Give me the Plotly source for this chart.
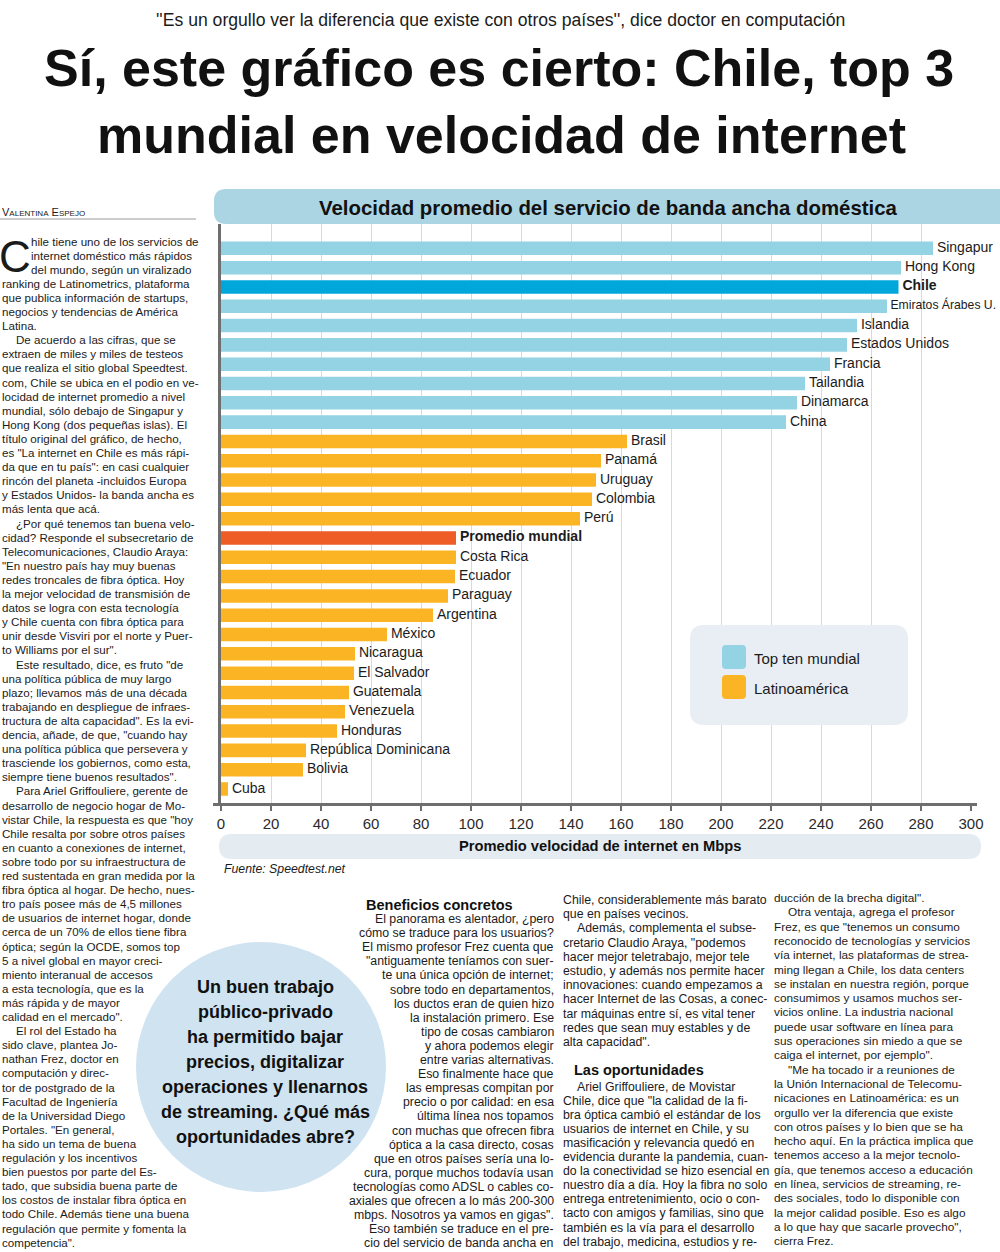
import plotly.graph_objects as go

W, H = 1000, 1252

# ---------------- chart data ----------------
countries = ["Singapur", "Hong Kong", "Chile", "Emiratos Árabes U.", "Islandia",
             "Estados Unidos", "Francia", "Tailandia", "Dinamarca", "China",
             "Brasil", "Panamá", "Uruguay", "Colombia", "Perú", "Promedio mundial",
             "Costa Rica", "Ecuador", "Paraguay", "Argentina", "México", "Nicaragua",
             "El Salvador", "Guatemala", "Venezuela", "Honduras",
             "República Dominicana", "Bolivia", "Cuba"]
speeds = [284.8, 272.0, 271.0, 266.4, 254.4, 250.4, 243.6, 233.6, 230.4, 226.0,
          162.4, 152.0, 150.0, 148.4, 143.6, 94.0, 94.0, 93.6, 90.8, 84.8, 66.4,
          53.6, 53.2, 51.2, 49.6, 46.4, 34.0, 32.8, 2.8]
groups = ["top", "top", "chile", "top", "top", "top", "top", "top", "top", "top",
          "latam", "latam", "latam", "latam", "latam", "mundo",
          "latam", "latam", "latam", "latam", "latam", "latam", "latam", "latam",
          "latam", "latam", "latam", "latam", "latam"]
bold_labels = ["Chile", "Promedio mundial"]
tick_values = [0, 20, 40, 60, 80, 100, 120, 140, 160, 180, 200, 220, 240, 260, 280, 300]
legend_labels = ["Top ten mundial", "Latinoamérica"]

chart_title = "Velocidad promedio del servicio de banda ancha doméstica"
x_title = "Promedio velocidad de internet en Mbps"
source = "Fuente: Speedtest.net"

# ---------------- page text ----------------
kicker = "''Es un orgullo ver la diferencia que existe con otros países'', dice doctor en computación"
headline = ["Sí, este gráfico es cierto: Chile, top 3", "mundial en velocidad de internet"]
byline = "V<span style='font-size:8px'>ALENTINA</span> E<span style='font-size:8px'>SPEJO</span>"

col1 = [
    "hile tiene uno de los servicios de",
    "internet doméstico más rápidos",
    "del mundo, según un viralizado",
    "ranking de Latinometrics, plataforma",
    "que publica información de startups,",
    "negocios y tendencias de América",
    "Latina.",
    "\tDe acuerdo a las cifras, que se",
    "extraen de miles y miles de testeos",
    "que realiza el sitio global Speedtest.",
    "com, Chile se ubica en el podio en ve-",
    "locidad de internet promedio a nivel",
    "mundial, sólo debajo de Singapur y",
    "Hong Kong (dos pequeñas islas). El",
    "título original del gráfico, de hecho,",
    "es \"La internet en Chile es más rápi-",
    "da que en tu país\": en casi cualquier",
    "rincón del planeta -incluidos Europa",
    "y Estados Unidos- la banda ancha es",
    "más lenta que acá.",
    "\t¿Por qué tenemos tan buena velo-",
    "cidad? Responde el subsecretario de",
    "Telecomunicaciones, Claudio Araya:",
    "\"En nuestro país hay muy buenas",
    "redes troncales de fibra óptica. Hoy",
    "la mejor velocidad de transmisión de",
    "datos se logra con esta tecnología",
    "y Chile cuenta con fibra óptica para",
    "unir desde Visviri por el norte y Puer-",
    "to Williams por el sur\".",
    "\tEste resultado, dice, es fruto \"de",
    "una política pública de muy largo",
    "plazo; llevamos más de una década",
    "trabajando en despliegue de infraes-",
    "tructura de alta capacidad\". Es la evi-",
    "dencia, añade, de que, \"cuando hay",
    "una política pública que persevera y",
    "trasciende los gobiernos, como esta,",
    "siempre tiene buenos resultados\".",
    "\tPara Ariel Griffouliere, gerente de",
    "desarrollo de negocio hogar de Mo-",
    "vistar Chile, la respuesta es que \"hoy",
    "Chile resalta por sobre otros países",
    "en cuanto a conexiones de internet,",
    "sobre todo por su infraestructura de",
    "red sustentada en gran medida por la",
    "fibra óptica al hogar. De hecho, nues-",
    "tro país posee más de 4,5 millones",
    "de usuarios de internet hogar, donde",
    "cerca de un 70% de ellos tiene fibra",
    "óptica; según la OCDE, somos top",
    "5 a nivel global en mayor creci-",
    "miento interanual de accesos",
    "a esta tecnología, que es la",
    "más rápida y de mayor",
    "calidad en el mercado\".",
    "\tEl rol del Estado ha",
    "sido clave, plantea Jo-",
    "nathan Frez, doctor en",
    "computación y direc-",
    "tor de postgrado de la",
    "Facultad de Ingeniería",
    "de la Universidad Diego",
    "Portales. \"En general,",
    "ha sido un tema de buena",
    "regulación y los incentivos",
    "bien puestos por parte del Es-",
    "tado, que subsidia buena parte de",
    "los costos de instalar fibra óptica en",
    "todo Chile. Además tiene una buena",
    "regulación que permite y fomenta la",
    "competencia\".",
]

col2_head = "Beneficios concretos"
col2 = [
    "\tEl panorama es alentador, ¿pero",
    "cómo se traduce para los usuarios?",
    "El mismo profesor Frez cuenta que",
    "\"antiguamente teníamos con suer-",
    "te una única opción de internet;",
    "sobre todo en departamentos,",
    "los ductos eran de quien hizo",
    "la instalación primero. Ese",
    "tipo de cosas cambiaron",
    "y ahora podemos elegir",
    "entre varias alternativas.",
    "Eso finalmente hace que",
    "las empresas compitan por",
    "precio o por calidad: en esa",
    "última línea nos topamos",
    "con muchas que ofrecen fibra",
    "óptica a la casa directo, cosas",
    "que en otros países sería una lo-",
    "cura, porque muchos todavía usan",
    "tecnologías como ADSL o cables co-",
    "axiales que ofrecen a lo más 200-300",
    "mbps. Nosotros ya vamos en gigas\".",
    "\tEso también se traduce en el pre-",
    "cio del servicio de banda ancha en",
]

col3a = [
    "Chile, considerablemente más barato",
    "que en países vecinos.",
    "\tAdemás, complementa el subse-",
    "cretario Claudio Araya, \"podemos",
    "hacer mejor teletrabajo, mejor tele",
    "estudio, y además nos permite hacer",
    "innovaciones: cuando empezamos a",
    "hacer Internet de las Cosas, a conec-",
    "tar máquinas entre sí, es vital tener",
    "redes que sean muy estables y de",
    "alta capacidad\".",
]
col3_head = "Las oportunidades"
col3b = [
    "\tAriel Griffouliere, de Movistar",
    "Chile, dice que \"la calidad de la fi-",
    "bra óptica cambió el estándar de los",
    "usuarios de internet en Chile, y su",
    "masificación y relevancia quedó en",
    "evidencia durante la pandemia, cuan-",
    "do la conectividad se hizo esencial en",
    "nuestro día a día. Hoy la fibra no solo",
    "entrega entretenimiento, ocio o con-",
    "tacto con amigos y familias, sino que",
    "también es la vía para el desarrollo",
    "del trabajo, medicina, estudios y re-",
]

col4 = [
    "ducción de la brecha digital\".",
    "\tOtra ventaja, agrega el profesor",
    "Frez, es que \"tenemos un consumo",
    "reconocido de tecnologías y servicios",
    "vía internet, las plataformas de strea-",
    "ming llegan a Chile, los data centers",
    "se instalan en nuestra región, porque",
    "consumimos y usamos muchos ser-",
    "vicios online. La industria nacional",
    "puede usar software en línea para",
    "sus operaciones sin miedo a que se",
    "caiga el internet, por ejemplo\".",
    "\t\"Me ha tocado ir a reuniones de",
    "la Unión Internacional de Telecomu-",
    "nicaciones en Latinoamérica: es un",
    "orgullo ver la diferencia que existe",
    "con otros países y lo bien que se ha",
    "hecho aquí. En la práctica implica que",
    "tenemos acceso a la mejor tecnolo-",
    "gía, que tenemos acceso a educación",
    "en línea, servicios de streaming, re-",
    "des sociales, todo lo disponible con",
    "la mejor calidad posible. Eso es algo",
    "a lo que hay que sacarle provecho\",",
    "cierra Frez.",
]

bubble = ["Un buen trabajo", "público-privado", "ha permitido bajar",
          "precios, digitalizar", "operaciones y llenarnos",
          "de streaming. ¿Qué más", "oportunidades abre?"]

# ---------------- styles ----------------
BODY = "Liberation Sans, Arial, sans-serif"
INK = "#1b1b1b"
AXIS = "#6e6e6e"
group_colors = {"top": "#93d3e3", "chile": "#00a7db", "latam": "#fbb424", "mundo": "#ef5d27"}
legend_colors = [group_colors["top"], group_colors["latam"]]


def px(x):
    return x / W


def py(y):
    return 1 - y / H


ann = []


def put(x, y, text, size=11, color=INK, family=BODY, xanchor="left", bold=False, italic=False):
    if bold:
        text = "<b>" + text + "</b>"
    if italic:
        text = "<i>" + text + "</i>"
    ann.append(dict(x=px(x), y=py(y), xref="paper", yref="paper", text=text,
                    showarrow=False, xanchor=xanchor, yanchor="middle",
                    font=dict(size=size, color=color, family=family)))


def column(lines, x, y0, pitch, size=11, xanchor="left", first_indent=None, indent=14):
    for i, line in enumerate(lines):
        xx = x
        t = line
        if t.startswith("\t"):
            t = t[1:]
            if xanchor == "left":
                xx = x + indent
        if first_indent is not None and i < 3:
            xx = x + first_indent
        put(xx, y0 + i * pitch, t, size=size, xanchor=xanchor)


shapes = []


def rrect(x0, y0, x1, y1, r, fill, layer="below"):
    def P(x, y):
        return f"{px(x):.5f},{py(y):.5f}"
    path = (f"M {P(x0 + r, y0)} L {P(x1 - r, y0)} Q {P(x1, y0)} {P(x1, y0 + r)} "
            f"L {P(x1, y1 - r)} Q {P(x1, y1)} {P(x1 - r, y1)} L {P(x0 + r, y1)} "
            f"Q {P(x0, y1)} {P(x0, y1 - r)} L {P(x0, y0 + r)} Q {P(x0, y0)} {P(x0 + r, y0)} Z")
    shapes.append(dict(type="path", xref="paper", yref="paper", path=path,
                       fillcolor=fill, line=dict(width=0), layer=layer))


# ---------------- figure ----------------
bar_colors = [group_colors[g] for g in groups]
labels = ["\u00a0" + (f"<b>{c}</b>" if c in bold_labels else c) for c in countries]
label_sizes = [12.2 if c == "Emiratos Árabes U." else 14 for c in countries]

fig = go.Figure()
fig.add_bar(x=speeds, y=countries, orientation="h", width=0.7,
            marker=dict(color=bar_colors, line=dict(width=0)), hoverinfo="skip")
fig.add_scatter(x=speeds, y=countries, mode="text", text=labels,
                textposition="middle right", cliponaxis=False, hoverinfo="skip",
                textfont=dict(size=label_sizes, family=BODY, color=INK))

# page header
put(500, 20, kicker, size=17.6, xanchor="center")
put(499, 68, headline[0], size=52, bold=True, xanchor="center", color="#111")
put(501, 135, headline[1], size=52, bold=True, xanchor="center", color="#111")

# byline + drop cap
put(0, 212, byline, size=11)
shapes.append(dict(type="line", xref="paper", yref="paper", x0=px(0), x1=px(196),
                   y0=py(219), y1=py(219), line=dict(color="#9a9a9a", width=1)))
put(-3, 256, "C", size=44)

# body columns
column(col1, 0, 241, 14.1, size=11.6, first_indent=29)
put(364, 905, col2_head, size=14.5, bold=True, color="#111")
column(col2, 556, 919, 14.1, size=12.3, xanchor="right")
column(col3a, 561, 900, 14.2, size=12.3)
put(572, 1070, col3_head, size=14.5, bold=True, color="#111")
column(col3b, 561, 1087, 14.05, size=12.3)
column(col4, 772, 898, 14.3, size=11.8)

# bubble
shapes.append(dict(type="circle", xref="paper", yref="paper", x0=px(136), x1=px(386),
                   y0=py(1192), y1=py(942), fillcolor="#cfe3f1", line=dict(width=0),
                   layer="below"))
for i, line in enumerate(bubble):
    put(265, 987 + i * 25, line, size=18, bold=True, xanchor="center", color="#111")

# chart decorations
rrect(214, 189, 1012, 224, 12, "#acd5e4")
put(608, 208, chart_title, size=20.4, bold=True, xanchor="center", color="#111")
rrect(219, 834, 981, 859, 12.5, "#e4ebf1")
put(600, 846, x_title, size=14.7, bold=True, xanchor="center", color="#111")
put(222, 869, source, size=12.3, italic=True)
# axis baseline overhang, as in the printed chart
shapes.append(dict(type="line", xref="paper", yref="paper", x0=px(213), x1=px(977),
                   y0=py(804.5), y1=py(804.5), line=dict(color=AXIS, width=3), layer="above"))

# legend
rrect(690, 625, 908, 725, 14, "#e8eef3", layer="above")
for i, (lab, col) in enumerate(zip(legend_labels, legend_colors)):
    yc = 657 + i * 30
    rrect(722, yc - 12, 746, yc + 12, 4, col, layer="above")
    put(752, yc + 1, lab, size=15)

fig.update_layout(
    width=W, height=H, margin=dict(l=0, r=0, t=0, b=0, pad=0, autoexpand=False),
    paper_bgcolor="white", plot_bgcolor="white", showlegend=False,
    xaxis=dict(domain=[221 / W, 971 / W], range=[0, 300], tickvals=tick_values,
               automargin=False,
               showgrid=True, gridcolor="#d9d9d9", gridwidth=1, zeroline=False,
               showline=True, linecolor=AXIS, linewidth=3,
               ticks="outside", ticklen=5, tickwidth=2, tickcolor=AXIS,
               tickfont=dict(size=15, family=BODY, color="#2a2a2a"), fixedrange=True),
    yaxis=dict(domain=[1 - 803 / H, 1 - 224 / H], type="category", automargin=False,
               categoryorder="array", categoryarray=countries,
               range=[28.725, -1.26], autorange=False, showticklabels=False,
               showgrid=False, zeroline=False, showline=True, linecolor=AXIS,
               linewidth=3, ticks="", fixedrange=True),
    annotations=ann, shapes=shapes,
)

fig.write_html(
    "out.html",
    config={"responsive": False, "displayModeBar": False},
    post_script=("document.body.style.margin='0';"
                 "document.body.style.overflow='hidden';"
                 "document.documentElement.style.overflow='hidden';"),
)
